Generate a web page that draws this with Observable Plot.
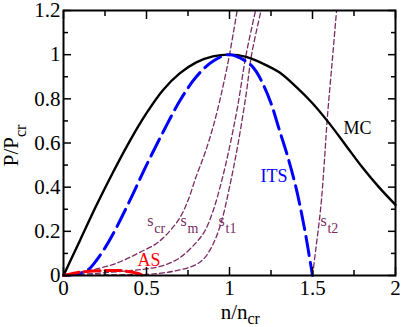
<!DOCTYPE html>
<html><head><meta charset="utf-8">
<script src="https://cdn.jsdelivr.net/npm/d3@7"></script>
<script src="https://cdn.jsdelivr.net/npm/@observablehq/plot@0.6"></script>
<style>
body{margin:0;background:#fff}
#chart svg text{font-family:"Liberation Serif", serif !important;}
</style>
</head><body><div id="chart"></div>
<script>
// MC curve
const mcX = [0, 0.1, 0.2, 0.3, 0.4, 0.5, 0.6, 0.7, 0.8, 0.9, 1.0, 1.1, 1.2, 1.3, 1.4, 1.5, 1.6, 1.7, 1.8, 1.9, 2.0];
const mcY = [0, 0.16, 0.32, 0.47, 0.61, 0.735, 0.84, 0.915, 0.965, 0.992, 1.0, 0.99, 0.96, 0.92, 0.855, 0.78, 0.69, 0.59, 0.49, 0.40, 0.32];
// ITS curve
const itsX = [0, 0.05, 0.1, 0.15, 0.2, 0.25, 0.3, 0.4, 0.5, 0.6, 0.7, 0.8, 0.9, 1.0, 1.1, 1.15, 1.2, 1.25, 1.3, 1.35, 1.4, 1.45, 1.5];
const itsY = [0, 0.003, 0.01, 0.027, 0.07, 0.125, 0.19, 0.34, 0.5, 0.65, 0.79, 0.9, 0.97, 1.0, 0.97, 0.935, 0.87, 0.78, 0.66, 0.54, 0.40, 0.22, 0];
// AS curve
const asX = [0, 0.05, 0.1, 0.2, 0.3, 0.35, 0.4, 0.45, 0.48];
const asY = [0, 0.008, 0.015, 0.021, 0.023, 0.022, 0.017, 0.009, 0];
// s curves
const scrX = [0, 0.1, 0.2, 0.3, 0.38, 0.46, 0.55, 0.6, 0.65, 0.7, 0.75, 0.8, 0.85, 0.9, 0.95, 1.0, 1.046];
const scrY = [0, 0.012, 0.03, 0.05, 0.075, 0.105, 0.14, 0.17, 0.21, 0.26, 0.34, 0.45, 0.55, 0.67, 0.82, 1.0, 1.2];
const smX = [0, 0.2, 0.4, 0.5, 0.6, 0.7, 0.8, 0.85, 0.9, 0.95, 1.0, 1.05, 1.1, 1.157];
const smY = [0, 0.01, 0.022, 0.03, 0.045, 0.08, 0.15, 0.2, 0.29, 0.42, 0.58, 0.77, 1.0, 1.2];
const st1X = [0, 0.3, 0.5, 0.6, 0.7, 0.8, 0.85, 0.9, 0.95, 1.0, 1.05, 1.1, 1.133, 1.19];
const st1Y = [0, 0.003, 0.005, 0.012, 0.025, 0.05, 0.08, 0.14, 0.24, 0.40, 0.59, 0.82, 1.0, 1.2];
const st2X = [1.5, 1.52, 1.55, 1.57, 1.59, 1.62, 1.645];
const st2Y = [0, 0.12, 0.31, 0.5, 0.72, 0.98, 1.2];
// labels
const curveLabels = ["MC", "ITS", "AS"];
const curveLabelX = [1.687, 1.187, 0.446];
const curveLabelY = [0.642, 0.425, 0.041];
const curveLabelColor = ["#000000", "#0000ff", "#ff0000"];
const sLabelSub = ["cr", "m", "t1", "t2"];
const sLabelX = [0.504, 0.705, 0.934, 1.548];
const sLabelY = [0.226, 0.226, 0.226, 0.226];
// ticks
const xMajor = [0, 0.5, 1, 1.5, 2];
const xMinor = [0.25, 0.75, 1.25, 1.75];
const yMajor = [0, 0.2, 0.4, 0.6, 0.8, 1, 1.2];
const yMinor = [0.1, 0.3, 0.5, 0.7, 0.9, 1.1];

const rows = (xs, ys) => xs.map((x, i) => ({x, y: ys[i]}));
const purple = "#7a2a62";
const font = "Liberation Serif";
const curveLabelRows = curveLabels.map((t, i) => ({t, x: curveLabelX[i], y: curveLabelY[i], c: curveLabelColor[i]}));
const sRows = sLabelSub.map((t, i) => ({t, x: sLabelX[i], y: sLabelY[i]}));
const fmt = d => String(d);

const sLine = (xs, ys) => Plot.line(rows(xs, ys), {x: "x", y: "y", stroke: purple, strokeWidth: 1.3, strokeDasharray: "5,3", curve: "catmull-rom", clip: true});

const chart = Plot.plot({
  width: 402, height: 327,
  marginLeft: 63, marginRight: 7, marginTop: 10, marginBottom: 52,
  style: {fontFamily: font, fontSize: "20px", background: "#fff"},
  x: {domain: [0, 2]},
  y: {domain: [0, 1.2]},
  marks: [
    sLine(scrX, scrY), sLine(smX, smY), sLine(st1X, st1Y), sLine(st2X, st2Y),
    Plot.line(rows(mcX, mcY), {x: "x", y: "y", stroke: "#000", strokeWidth: 2.4, curve: "catmull-rom"}),
    Plot.line(rows(itsX, itsY), {x: "x", y: "y", stroke: "#0000ff", strokeWidth: 3, strokeDasharray: "19,7", curve: "catmull-rom"}),
    Plot.line(rows(asX, asY), {x: "x", y: "y", stroke: "#ff0000", strokeWidth: 3, strokeDasharray: "16,5", curve: "catmull-rom"}),
    Plot.text(curveLabelRows, {x: "x", y: "y", text: "t", fill: "c", textAnchor: "start", lineAnchor: "bottom", fontSize: 18, fontFamily: font}),
    Plot.text(sRows, {x: "x", y: "y", text: () => "s", fill: purple, textAnchor: "start", lineAnchor: "bottom", fontSize: 16, fontFamily: font}),
    Plot.text(sRows, {x: "x", y: "y", text: "t", fill: purple, textAnchor: "start", lineAnchor: "bottom", fontSize: 14, fontFamily: font, dx: 7, dy: 7}),
    // axes
    Plot.axisX(xMajor, {anchor: "bottom", tickSize: -8, tickPadding: 13, fontSize: 21, fontFamily: font, label: null, strokeWidth: 1.5, tickFormat: fmt}),
    Plot.axisX(xMinor, {anchor: "bottom", tickSize: -5, tickFormat: () => "", label: null, strokeWidth: 1.5}),
    Plot.axisX(xMajor, {anchor: "top", tickSize: -8, tickFormat: () => "", label: null, strokeWidth: 1.5}),
    Plot.axisX(xMinor, {anchor: "top", tickSize: -5, tickFormat: () => "", label: null, strokeWidth: 1.5}),
    Plot.axisY(yMajor, {anchor: "left", tickSize: -8, tickPadding: 11, fontSize: 21, fontFamily: font, label: null, strokeWidth: 1.5, tickFormat: fmt}),
    Plot.axisY(yMinor, {anchor: "left", tickSize: -5, tickFormat: () => "", label: null, strokeWidth: 1.5}),
    Plot.axisY(yMajor, {anchor: "right", tickSize: -8, tickFormat: () => "", label: null, strokeWidth: 1.5}),
    Plot.axisY(yMinor, {anchor: "right", tickSize: -5, tickFormat: () => "", label: null, strokeWidth: 1.5}),
    // axis titles
    Plot.text(["n/n"], {frameAnchor: "bottom", textAnchor: "end", lineAnchor: "bottom", dx: 18, dy: 43, fontSize: 21, fontFamily: font}),
    Plot.text(["cr"], {frameAnchor: "bottom", textAnchor: "start", lineAnchor: "bottom", dx: 18, dy: 48, fontSize: 16, fontFamily: font}),
    Plot.text(["P/P"], {frameAnchor: "left", rotate: -90, textAnchor: "end", lineAnchor: "bottom", dx: -46, dy: -6, fontSize: 21, fontFamily: font}),
    Plot.text(["cr"], {frameAnchor: "left", rotate: -90, textAnchor: "start", lineAnchor: "bottom", dx: -38, dy: -6, fontSize: 16, fontFamily: font}),
    Plot.frame({stroke: "#000", strokeWidth: 2})
  ]
});
document.getElementById("chart").appendChild(chart);
</script>
</body></html>
